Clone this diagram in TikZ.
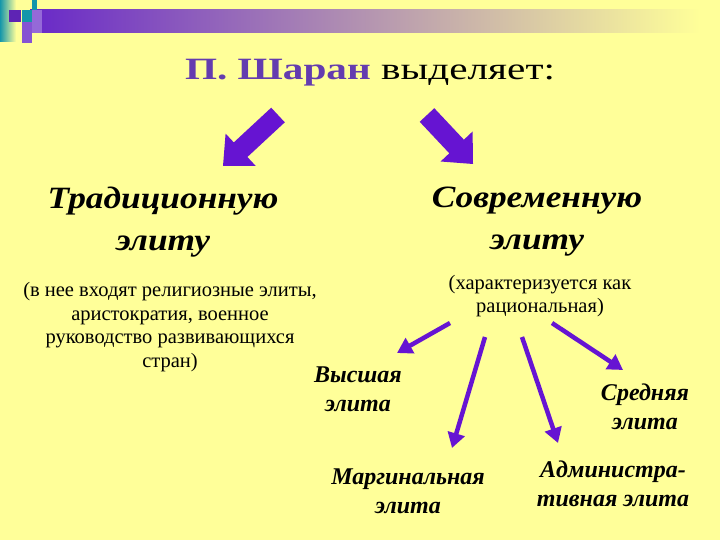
\documentclass[tikz,border=0pt]{standalone}
\usepackage{fontspec}
\setmainfont{Liberation Serif}
\newfontfamily\titlefont[FakeStretch=1.33]{Liberation Serif}
\newfontfamily\headfont[FakeStretch=1.14]{Liberation Serif}
\newfontfamily\bodyfont{Liberation Serif}
\usetikzlibrary{arrows.meta}
\definecolor{bg}{RGB}{255,255,153}
\definecolor{arrowpurple}{RGB}{102,20,210}
\definecolor{titlepurple}{RGB}{100,60,175}
\definecolor{barpurple}{RGB}{104,40,200}
\definecolor{teal}{RGB}{20,150,170}
\tikzset{
  heading/.style={font=\headfont\fontsize{31}{42}\selectfont\bfseries\itshape, align=center, inner sep=0pt},
  note/.style={font=\bodyfont\fontsize{20.5}{23.5}\selectfont, align=center, inner sep=0pt},
  label/.style={font=\bodyfont\fontsize{24}{29}\selectfont\bfseries\itshape, align=center, inner sep=0pt},
  thinarrow/.style={draw=arrowpurple, line width=4.5pt, -{Triangle[length=15pt,width=17pt]}},
  bigarrow/.style={fill=arrowpurple, draw=none}
}
\begin{document}
\begin{tikzpicture}[x=1pt,y=-1pt]
\fill[bg] (0,0) rectangle (720,540);
\useasboundingbox (0,0) rectangle (720,540);
% top-left decoration
\shade[left color=teal, right color=bg] (0,0) rectangle (16,42);
\shade[left color=barpurple, right color=bg] (30,10) rectangle (700,33);
\fill[barpurple!90!black] (9,10) rectangle (21,22);
\fill[teal] (22,10) rectangle (32,22);
\fill[teal] (32,0) rectangle (37,10);
\fill[barpurple!80] (22,22) rectangle (32,43);
\fill[barpurple!70] (32,10) rectangle (42,33);
% title
\node[inner sep=0pt] (title) at (370,73) {\titlefont\fontsize{31}{36}\selectfont\textcolor{titlepurple}{\bfseries П. Шаран} выделяет:};
% big arrows
\fill[bigarrow] (284.8,122.3) -- (247.4,157.0) -- (255.6,165.8) -- (223,166) -- (225.6,133.6) -- (233.8,142.4) -- (271.2,107.7) -- cycle;
\fill[bigarrow] (419.7,121.8) -- (449.3,153.3) -- (440.6,161.5) -- (473,164) -- (472.6,131.5) -- (463.9,139.7) -- (434.3,108.2) -- cycle;
% headings
\node[heading] (trad) at (163,222) {Традиционную\\элиту};
\node[heading] (modern) at (537,222) {Современную\\элиту};
% notes
\node[note] (tradnote) at (170,327) {(в нее входят религиозные элиты,\\аристократия, военное\\руководство развивающихся\\стран)};
\node[note] (modnote) at (540,296) {(характеризуется как\\рациональная)};
% labels
\node[label] (high) at (358,389) {Высшая\\элита};
\node[label] (middle) at (645,407) {Средняя\\элита};
\node[label] (marg) at (408,491) {Маргинальная\\элита};
\node[label] (admin) at (613,484) {Администра-\\тивная элита};
% thin arrows
\coordinate (s1) at (450,323); \coordinate (e1) at (397,353);
\coordinate (s2) at (485,337); \coordinate (e2) at (452,448);
\coordinate (s3) at (522,337); \coordinate (e3) at (558,443);
\coordinate (s4) at (552,323); \coordinate (e4) at (623,370);
\draw[thinarrow] (s1) -- (e1);
\draw[thinarrow] (s2) -- (e2);
\draw[thinarrow] (s3) -- (e3);
\draw[thinarrow] (s4) -- (e4);
\end{tikzpicture}
\end{document}
